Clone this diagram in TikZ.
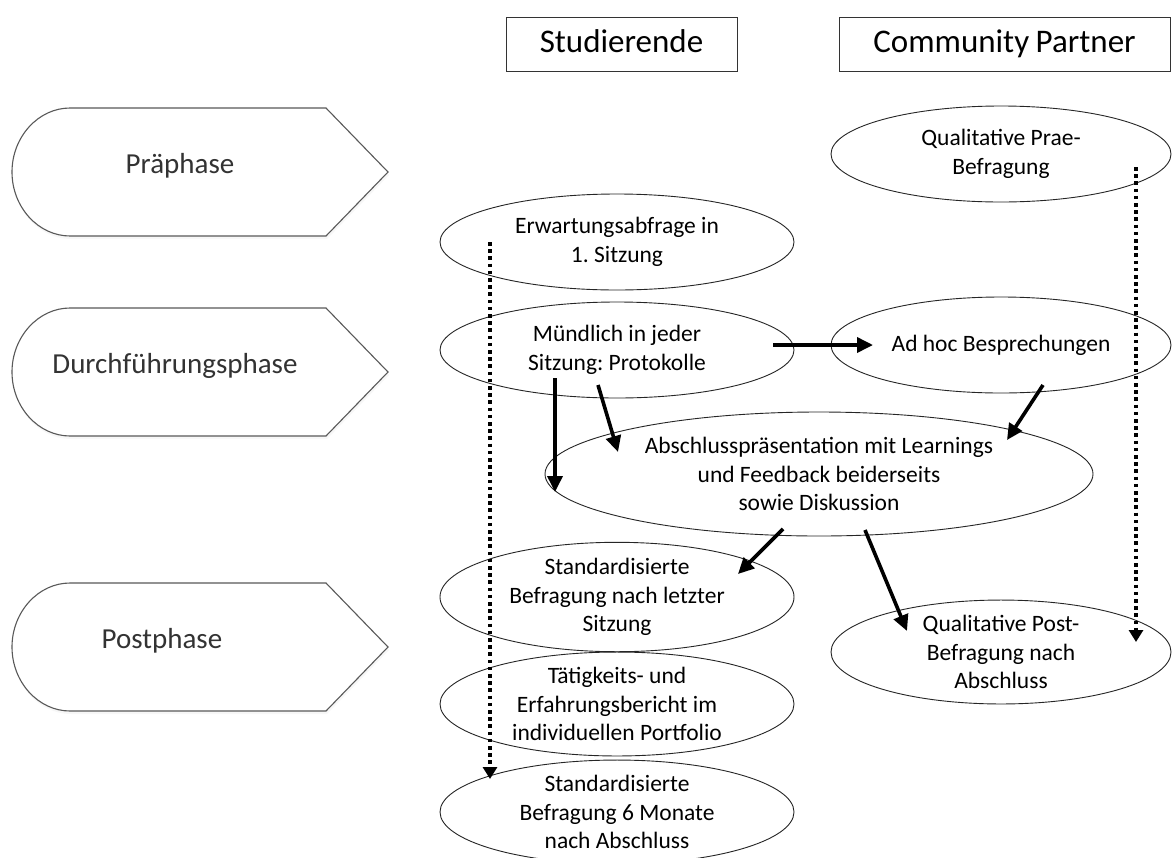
\documentclass[tikz,border=0pt]{standalone}
\usepackage{fontspec}
\setmainfont{Carlito}
\frenchspacing
\usetikzlibrary{shapes.geometric,arrows.meta,shadows}
\tikzset{
  oval/.style={draw=black!85, line width=0.9pt, ellipse, inner sep=0pt, align=center,
    text=black, font=\fontsize{23.5}{28.5}\selectfont},
  lbox/.style={oval, minimum width=354pt, minimum height=96pt},
  rbox/.style={oval, minimum width=340pt, minimum height=96pt},
  head/.style={draw=black!80, line width=0.9pt, minimum height=54pt, inner sep=0pt,
    text height=22pt, text depth=6pt, text=black, font=\fontsize{33}{38}\selectfont},
  phase/.style={draw=black!65, line width=1.1pt, fill=white,
    drop shadow={opacity=0.06, shadow xshift=1pt, shadow yshift=-3pt}},
  phasetext/.style={text=black!80, font=\fontsize{29}{34}\selectfont},
  flow/.style={line width=3.6pt, -{Triangle[length=16pt,width=15pt]}},
  trace/.style={line width=3.6pt, dash pattern=on 3.6pt off 3.6pt, -{Triangle[length=12pt,width=14pt]}}
}
\begin{document}
\begin{tikzpicture}[x=1pt,y=-1pt]%phases and evaluation
\useasboundingbox (0,0) rectangle (1172,857);
\clip (0,0) rectangle (1172,857);
\fill[white] (0,0) rectangle (1172,857);
\foreach \yc/\nm/\tx/\lbl in {172/pre/180/Präphase, 372/durch/175/Durchführungsphase, 647/post/162/Postphase} {
  \draw[phase, shift={(0,\yc)}] (326,-64) -- (388,0) -- (326,64) -- (70,64)
    .. controls (38.5,64) and (12,35.3) .. (12,0)
    .. controls (12,-35.3) and (38.5,-64) .. (70,-64) -- cycle;
  \node[phasetext] (\nm) at (\tx,\yc-6) {\lbl};
}
\node[head, minimum width=231pt] (stud) at (621.5,44) {Studierende};
\node[head, minimum width=331pt] (cp) at (1004.5,44) {Community\kern-1pt\ Partner};
\node[lbox] (erw) at (617,242) {Erwartungsabfrage in\\1. Sitzung};
\node[rbox] (prae) at (1001,154) {Qualitative Prae-\\Befragung};
\node[lbox] (mund) at (617,350) {Mündlich in jeder\\Sitzung: Protokolle};
\node[rbox] (adhoc) at (1001,345) {Ad hoc Besprechungen};
\node[oval, minimum width=548pt, minimum height=124pt] (absch) at (819,474)
  {Abschlusspräsentation mit Learnings\\und Feedback beiderseits\\sowie Diskussion};
\node[lbox] (std1) at (617,597) {Standardisierte\\Befragung nach letzter\\Sitzung};
\node[lbox] (taet) at (617,704) {Tätigkeits- und\\Erfahrungsbericht im\\individuellen Portfolio};
\node[lbox] (std6) at (617,812) {Standardisierte\\Befragung 6 Monate\\nach Abschluss};
\node[rbox] (post) at (1001,652) {Qualitative Post-\\Befragung nach\\Abschluss};
\draw[trace] ([shift={(-127,0)}]erw.center) -- ([shift={(-127,-33)}]std6.center);
\draw[trace] ([shift={(135,13)}]prae.center) -- ([shift={(135,-10)}]post.center);
\draw[flow] ([shift={(156,-5)}]mund.center) -- ([shift={(-128,0)}]adhoc.center);
\draw[flow] ([shift={(-62,28)}]mund.center) -- ([shift={(-264,18)}]absch.center);
\draw[flow] ([shift={(-19,35)}]mund.center) -- ([shift={(-201,-22)}]absch.center);
\draw[flow] ([shift={(42,40)}]adhoc.center) -- ([shift={(188,-34)}]absch.center);
\draw[flow] ([shift={(-36,55)}]absch.center) -- ([shift={(121,-23)}]std1.center);
\draw[flow] ([shift={(46,56)}]absch.center) -- ([shift={(-94,-21)}]post.center);
\end{tikzpicture}
\end{document}
